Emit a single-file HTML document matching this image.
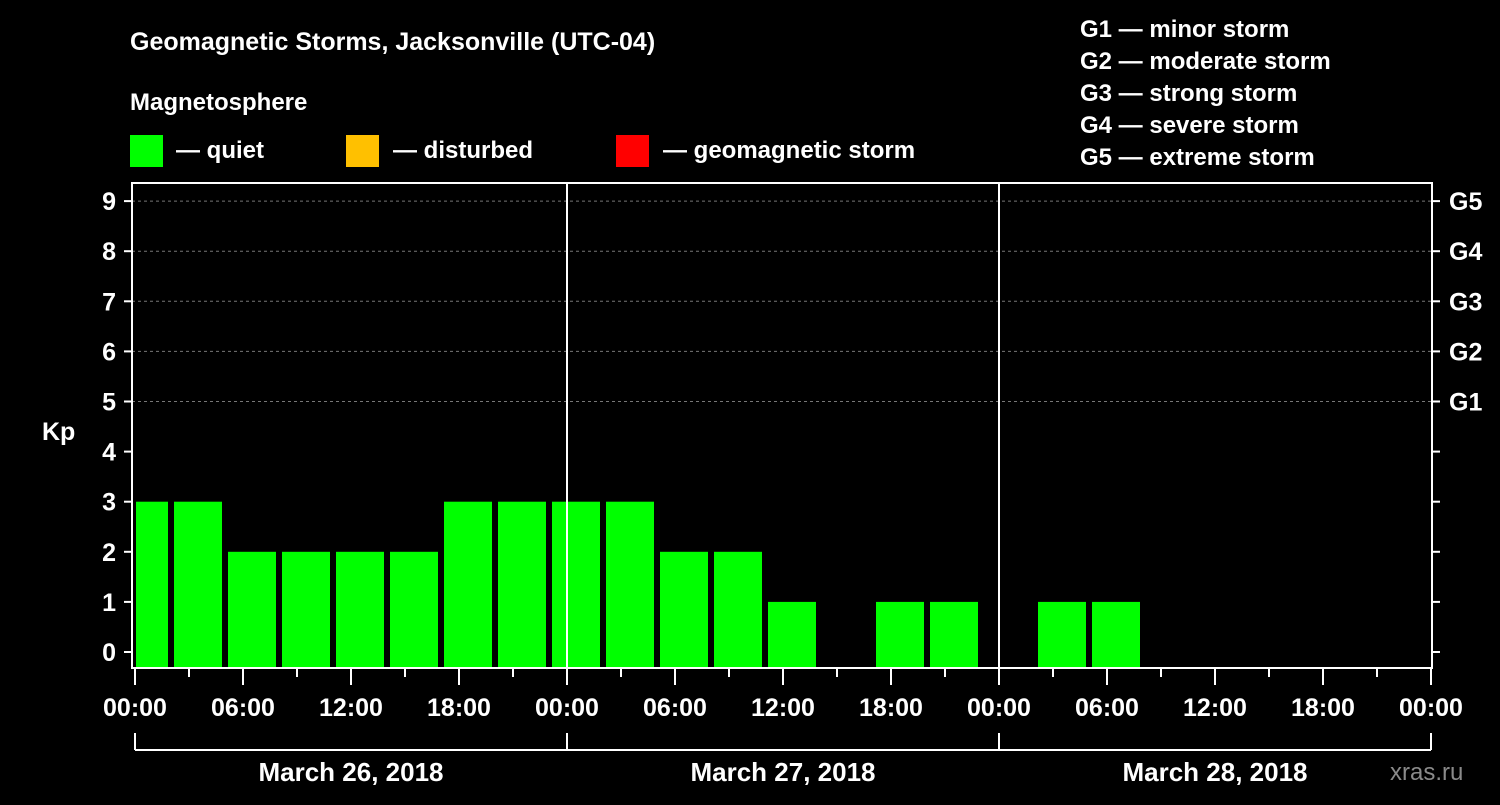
<!DOCTYPE html>
<html><head><meta charset="utf-8"><style>
body{margin:0;background:#000;}
svg text{font-family:"Liberation Sans",Arial,sans-serif;font-weight:bold;fill:#fff;}
</style></head><body>
<svg width="1500" height="800" viewBox="0 0 1500 800">
<rect width="1500" height="800" fill="#000"/>
<text x="130" y="50" font-size="25">Geomagnetic Storms, Jacksonville (UTC-04)</text>
<text x="130" y="110" font-size="24">Magnetosphere</text>
<g><rect x="130" y="135" width="33" height="32" fill="#00ff00"/><text x="176" y="158" font-size="24">— quiet</text></g>
<g><rect x="346" y="135" width="33" height="32" fill="#ffc000"/><text x="393" y="158" font-size="24">— disturbed</text></g>
<g><rect x="616" y="135" width="33" height="32" fill="#ff0000"/><text x="663" y="158" font-size="24">— geomagnetic storm</text></g>
<g font-size="24">
<text x="1080" y="37">G1 — minor storm</text>
<text x="1080" y="69">G2 — moderate storm</text>
<text x="1080" y="101">G3 — strong storm</text>
<text x="1080" y="133">G4 — severe storm</text>
<text x="1080" y="165">G5 — extreme storm</text>
</g>
<text x="42" y="440" font-size="25">Kp</text>
<g id="grid"></g><g id="bars"></g><g id="axes"></g>
<text x="1390" y="780" font-size="24" fill="#888" style="fill:#8a8a8a;font-weight:normal">xras.ru</text>
</svg>
<script>
const kpValues=[3,3,2,2,2,2,3,3,3,3,2,2,1,0,1,1,0,1,1,0,0,0,0,0];
const yTicks=[0,1,2,3,4,5,6,7,8,9];
const gLabels=["G1","G2","G3","G4","G5"];
const xTickLabels=["00:00","06:00","12:00","18:00","00:00","06:00","12:00","18:00","00:00","06:00","12:00","18:00","00:00"];
const dayLabels=["March 26, 2018","March 27, 2018","March 28, 2018"];
const NS="http://www.w3.org/2000/svg";
const L=132,R=1432,T=183,B=668,X0=135,DAY=432;
const y=v=>652-v*50.1;
const x=h=>X0+h*DAY/24;
function mk(tag,attrs,parent,text){const e=document.createElementNS(NS,tag);for(const k in attrs)e.setAttribute(k,attrs[k]);if(text!==undefined)e.textContent=text;parent.appendChild(e);return e;}
const grid=document.getElementById('grid'),bars=document.getElementById('bars'),axes=document.getElementById('axes');
yTicks.forEach(v=>{if(v>=5){const g=mk('line',{x1:L,x2:R,y1:y(v),y2:y(v),stroke:'#777','stroke-dasharray':'3,3'},grid);

}});
kpValues.forEach((v,i)=>{if(v<=0)return;let x1=x(i*3)-15,x2=x1+48;if(x1<L+4)x1=L+4;
const c=v>=5?'#ff0000':(v>=4?'#ffc000':'#00ff00');
const r=mk('rect',{x:x1,y:y(v),width:x2-x1,height:B-y(v),fill:c},bars);

});
const fr=mk('rect',{x:L,y:T,width:R-L,height:B-T,fill:'none',stroke:'#fff','stroke-width':2},axes);


[1,2].forEach(d=>{const l=mk('line',{x1:x(d*24),x2:x(d*24),y1:T,y2:B,stroke:'#fff','stroke-width':2},axes);

});
yTicks.forEach(v=>{mk('line',{x1:L-8,x2:L,y1:y(v),y2:y(v),stroke:'#fff','stroke-width':2},axes);
mk('line',{x1:R,x2:R+8,y1:y(v),y2:y(v),stroke:'#fff','stroke-width':2},axes);
const t=mk('text',{x:116,y:y(v)+9,'font-size':25,'text-anchor':'end'},axes,String(v));

});
gLabels.forEach((g,i)=>{const t=mk('text',{x:1449,y:y(5+i)+9,'font-size':25},axes,g);

});
for(let h=0;h<=72;h+=3){const major=h%6===0;mk('line',{x1:x(h),x2:x(h),y1:B,y2:B+(major?17:9),stroke:'#fff','stroke-width':2},axes);}
xTickLabels.forEach((s,i)=>{const t=mk('text',{x:x(i*6),y:716,'font-size':25,'text-anchor':'middle'},axes,s);

});
mk('line',{x1:x(0),x2:x(72),y1:750,y2:750,stroke:'#fff','stroke-width':2},axes);
for(let d=0;d<=3;d++)mk('line',{x1:x(d*24),x2:x(d*24),y1:733,y2:750,stroke:'#fff','stroke-width':2},axes);
dayLabels.forEach((s,i)=>{const t=mk('text',{x:x(i*24+12),y:781,'font-size':26,'text-anchor':'middle'},axes,s);

});
</script>
</body></html>
